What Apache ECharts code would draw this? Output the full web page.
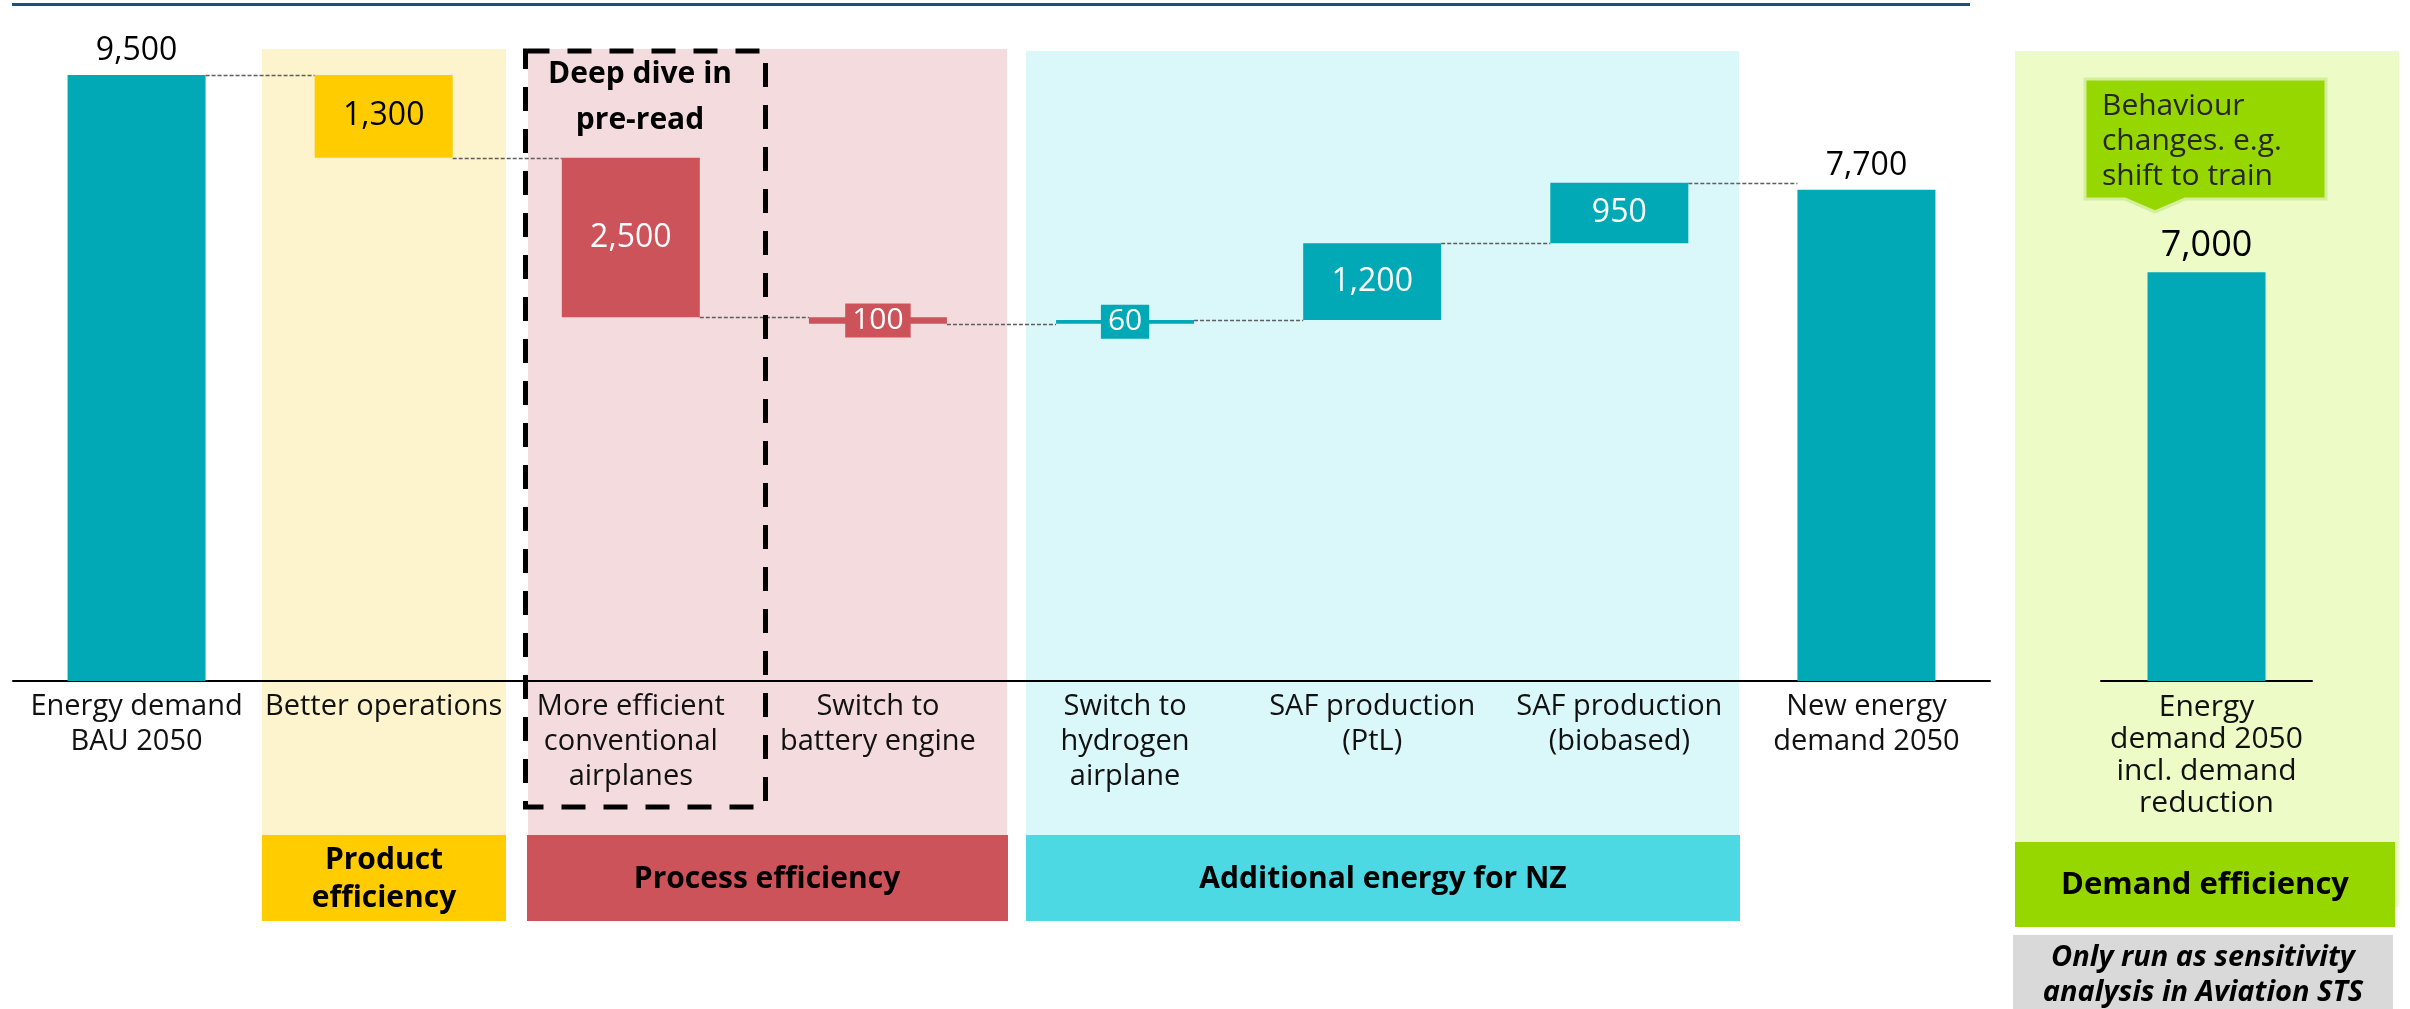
<!DOCTYPE html>
<html>
<head>
<meta charset="utf-8">
<script src="https://cdn.jsdelivr.net/npm/echarts@6/dist/echarts.min.js"></script>
<style>
  html, body { margin: 0; padding: 0; background: #ffffff; }
  #chart { width: 2410px; height: 1009px; }
</style>
</head>
<body>
<div id="chart"></div>
<script>
// Aviation energy demand 2050 – waterfall from BAU to new demand
const categories = [
  'Energy demand\nBAU 2050',
  'Better operations',
  'More efficient\nconventional\nairplanes',
  'Switch to\nbattery engine',
  'Switch to\nhydrogen\nairplane',
  'SAF production\n(PtL)',
  'SAF production\n(biobased)',
  'New energy\ndemand 2050'
];
const startTotal = 9500;
const steps = [-1300, -2500, -100, 60, 1200, 950];
const endTotal = 7700;

// Sensitivity panel: demand reduction
const reducedCategory = ['Energy\ndemand 2050\nincl. demand\nreduction'];
const reducedTotal = [7000];

const TEAL = '#00A9B5', YELLOW = '#FFCC00', RED = '#CD535B';
const barColors = [TEAL, YELLOW, RED, RED, TEAL, TEAL, TEAL, TEAL];
const FONT = '"Open Sans", "Noto Sans", sans-serif';
const BAR_W = 138;

// Build floating-bar bases, visible sizes and the running level after each bar
const bases = [0], sizes = [startTotal], levels = [startTotal];
const stated = [startTotal];
let run = startTotal;
steps.forEach(s => {
  const next = run + s;
  bases.push(Math.min(run, next));
  sizes.push(Math.abs(s));
  stated.push(Math.abs(s));
  run = next;
  levels.push(run);
});
bases.push(0); sizes.push(endTotal); stated.push(endTotal);

const fmt = v => v.toLocaleString('en-US');

function labelFor(i) {
  if (i === 0 || i === categories.length - 1) {
    return { show: true, position: 'top', distance: 8, color: '#000', fontSize: 32, fontFamily: FONT };
  }
  const small = sizes[i] < 300;
  return {
    show: true, position: 'inside', fontSize: small ? 30 : 32, fontFamily: FONT,
    color: barColors[i] === YELLOW ? '#000' : '#fff',
    backgroundColor: small ? barColors[i] : 'transparent',
    padding: small ? [1, 7, 1, 7] : 0,
    lineHeight: small ? 32 : 36
  };
}

const deltaData = sizes.map((v, i) => ({
  value: v,
  itemStyle: { color: barColors[i] },
  label: labelFor(i)
}));

const chart = echarts.init(document.getElementById('chart'), null, { renderer: 'canvas' });

const rect = (x, y, w, h, fill, z) => ({ type: 'rect', shape: { x, y, width: w, height: h }, style: { fill }, z, silent: true });
const boxText = (cx, cy, text, opts) => Object.assign({
  type: 'text', z: 101, silent: true,
  style: Object.assign({ text, x: cx, y: cy, align: 'center', verticalAlign: 'middle', fill: '#000',
    font: 'bold 30px ' + FONT, lineHeight: 38 }, opts || {})
});

chart.setOption({
  animation: false,
  backgroundColor: '#ffffff',
  grid: [
    { left: 13, width: 1977, top: 43, bottom: 328 },
    { left: 2101, width: 211, top: 97, bottom: 328 }
  ],
  xAxis: [
    {
      type: 'category', gridIndex: 0, data: categories,
      axisLine: { lineStyle: { color: '#000', width: 2 } },
      axisTick: { show: false },
      axisLabel: { interval: 0, hideOverlap: false, margin: 8, color: '#111', fontSize: 29, lineHeight: 35, fontFamily: FONT }
    },
    {
      type: 'category', gridIndex: 1, data: reducedCategory,
      axisLine: { lineStyle: { color: '#000', width: 2 } },
      axisTick: { show: false },
      axisLabel: { interval: 0, margin: 10, color: '#111', fontSize: 30, lineHeight: 32, fontFamily: FONT }
    }
  ],
  yAxis: [
    { type: 'value', gridIndex: 0, min: 0, max: 10000, show: false, splitLine: { show: false } },
    { type: 'value', gridIndex: 1, min: 0, max: 10000, show: false, splitLine: { show: false } }
  ],
  series: [
    {
      name: 'base', type: 'bar', stack: 'wf', xAxisIndex: 0, yAxisIndex: 0,
      barWidth: BAR_W, silent: true,
      itemStyle: { color: 'transparent' }, label: { show: false },
      data: bases
    },
    {
      name: 'change', type: 'bar', stack: 'wf', xAxisIndex: 0, yAxisIndex: 0,
      barWidth: BAR_W, z: 3,
      label: { formatter: p => fmt(stated[p.dataIndex]) },
      data: deltaData
    },
    {
      name: 'connector', type: 'custom', xAxisIndex: 0, yAxisIndex: 0, z: 2, silent: true,
      data: levels.map((v, i) => [i, v]),
      renderItem: (params, api) => {
        const i = api.value(0), lv = api.value(1);
        const a = api.coord([i, lv]), b = api.coord([i + 1, lv]);
        const y = Math.round(a[1]) + 0.5;
        return {
          type: 'line',
          shape: { x1: a[0] + BAR_W / 2, y1: y, x2: b[0] - BAR_W / 2, y2: y },
          style: { stroke: '#5E5E5E', lineWidth: 1.5, lineDash: [4, 2] }
        };
      }
    },
    {
      name: 'reduced', type: 'bar', xAxisIndex: 1, yAxisIndex: 1, barWidth: 118, z: 3,
      itemStyle: { color: TEAL },
      label: { show: true, position: 'top', distance: 8, color: '#000', fontSize: 36, fontFamily: FONT, formatter: p => fmt(p.value) },
      data: reducedTotal
    }
  ],
  graphic: [
    // title rule
    { type: 'line', silent: true, z: 50, shape: { x1: 12, y1: 4.5, x2: 1970, y2: 4.5 }, style: { stroke: '#1A5080', lineWidth: 3 } },
    // lever group panels
    rect(262, 49, 244, 786, '#FDF3CC', -10),
    rect(528, 49, 479, 786, '#F4DCDE', -10),
    rect(1026, 51, 713, 784, '#DAF7F9', -10),
    rect(2015, 51, 384, 856, '#EDFCC6', -10),
    // group headers
    rect(262, 835, 244, 86, YELLOW, 100),
    rect(527, 835, 481, 86, RED, 100),
    rect(1026, 835, 714, 86, '#4DD9E3', 100),
    rect(2015, 842, 380, 85, '#97D700', 100),
    rect(2013, 935, 380, 80, '#D9D9D9', 100),
    boxText(384, 879, 'Product\nefficiency'),
    boxText(767, 879, 'Process efficiency'),
    boxText(1383, 879, 'Additional energy for NZ'),
    boxText(2205, 885, 'Demand efficiency', { font: 'bold 31px ' + FONT }),
    boxText(2203, 975, 'Only run as sensitivity\nanalysis in Aviation STS', { font: 'italic bold 29px ' + FONT, lineHeight: 35 }),
    // deep-dive frame
    {
      type: 'rect', z: 110, silent: true,
      shape: { x: 525.5, y: 51, width: 240, height: 756 },
      style: { fill: 'none', stroke: '#000', lineWidth: 5, lineDash: [24, 18] }
    },
    boxText(640, 97, 'Deep dive in\npre-read', { lineHeight: 46 }),
    // behaviour-change callout
    {
      type: 'polygon', z: 100, silent: true,
      shape: { points: [[2085, 79], [2326, 79], [2326, 199], [2185, 199], [2155, 212], [2125, 199], [2085, 199]] },
      style: { fill: '#97D700', stroke: '#D4EE9B', lineWidth: 3 }
    },
    {
      type: 'text', z: 101, silent: true,
      style: { text: 'Behaviour\nchanges. e.g.\nshift to train', x: 2102, y: 89, align: 'left', verticalAlign: 'top',
        fill: '#262626', font: '30px ' + FONT, lineHeight: 35 }
    }
  ]
});
</script>
</body>
</html>
